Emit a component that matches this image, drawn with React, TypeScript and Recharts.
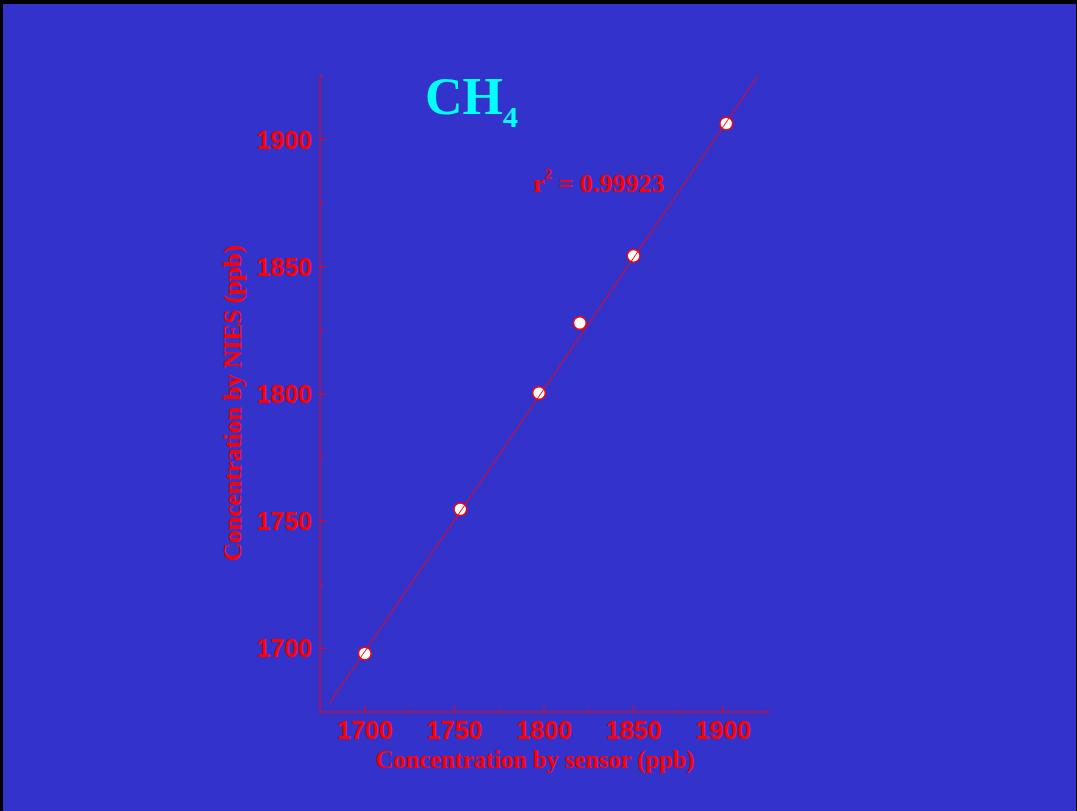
import React from "react";
import { ScatterChart, Scatter, XAxis, YAxis } from "recharts";

const sensorValues = [1700, 1753.3, 1797.2, 1820, 1850, 1901.7];
const niesValues = [1698, 1754.7, 1800.4, 1827.9, 1854.3, 1906.3];
const fitX = [1680.2, 1919.4];
const fitY = [1678.4, 1925.1];
const majorTicks = [1700, 1750, 1800, 1850, 1900];
const minorTicks = [1725, 1775, 1825, 1875, 1925];
const axisDomain = [1675, 1925];

const points = sensorValues.map((x, i) => ({ x, y: niesValues[i] }));
const fitLine = fitX.map((x, i) => ({ x, y: fitY[i] }));
const allTicks = [...majorTicks, ...minorTicks].sort((a, b) => a - b);

const RED = "#FF0000";
const BLUE = "#3333CC";
const SANS = "'Liberation Sans', Arial, sans-serif";
const SERIF = "'Liberation Serif', 'Times New Roman', serif";

const XTick = (props: any) => {
  const { x, y, payload } = props;
  const major = majorTicks.includes(payload.value);
  return (
    <g>
      <line x1={x} x2={x} y1={y} y2={y - (major ? 6 : 3)} stroke={RED} strokeWidth={1} />
      {major && (
        <text x={x} y={y + 27} textAnchor="middle" fill={RED} fontFamily={SANS} fontWeight="bold" fontSize={25}>
          {payload.value}
        </text>
      )}
    </g>
  );
};

const YTick = (props: any) => {
  const { x, y, payload } = props;
  const major = majorTicks.includes(payload.value);
  return (
    <g>
      <line x1={x} x2={x + (major ? 6 : 3)} y1={y} y2={y} stroke={RED} strokeWidth={1} />
      {major && (
        <text x={x - 8} y={y + 9} textAnchor="end" fill={RED} fontFamily={SANS} fontWeight="bold" fontSize={25}>
          {payload.value}
        </text>
      )}
    </g>
  );
};

const Marker = (props: any) => {
  const { cx, cy } = props;
  return <circle cx={cx} cy={cy} r={6.3} fill="#FFFFFF" stroke={RED} strokeWidth={1.4} />;
};

export default function App() {
  return (
    <div style={{ position: "absolute", left: 0, top: 0, width: 1077, height: 811, background: "#000" }}>
      <div style={{ position: "absolute", left: 3, top: 4, width: 1073, height: 807, background: BLUE }} />
      <div style={{ position: "absolute", left: 0, top: 0 }}>
        <ScatterChart width={1077} height={811} margin={{ top: 76, right: 309, bottom: 69, left: 260 }}>
          <XAxis
            type="number"
            dataKey="x"
            domain={axisDomain}
            ticks={allTicks}
            interval={0}
            height={30}
            tickSize={0}
            tickMargin={0}
            tickLine={false}
            axisLine={{ stroke: RED, strokeWidth: 1 }}
            tick={<XTick />}
            allowDataOverflow
          />
          <YAxis
            type="number"
            dataKey="y"
            domain={axisDomain}
            ticks={allTicks}
            interval={0}
            width={60}
            tickSize={0}
            tickMargin={0}
            tickLine={false}
            axisLine={{ stroke: RED, strokeWidth: 1 }}
            tick={<YTick />}
            allowDataOverflow
          />
          <Scatter data={points} shape={<Marker />} isAnimationActive={false} />
          <Scatter
            data={fitLine}
            line={{ stroke: RED, strokeWidth: 1 }}
            lineType="joint"
            shape={() => <g />}
            isAnimationActive={false}
          />
        </ScatterChart>
      </div>
      <svg width={1077} height={811} style={{ position: "absolute", left: 0, top: 0, pointerEvents: "none" }}>
        <text x={425} y={114} fill="#00FFFF" fontFamily={SERIF} fontWeight="bold" fontSize={52}>
          CH
          <tspan dy={13} fontSize={30}>4</tspan>
        </text>
        <text x={533} y={192} fill={RED} fontFamily={SERIF} fontWeight="bold" fontSize={26}>
          r
          <tspan dy={-13} fontSize={15}>2</tspan>
          <tspan dy={13}> = 0.99923</tspan>
        </text>
        <text x={535} y={768} textAnchor="middle" fill={RED} fontFamily={SERIF} fontWeight="bold" fontSize={24.5}>
          Concentration by sensor (ppb)
        </text>
        <text
          x={0}
          y={0}
          transform="translate(241,403) rotate(-90)"
          textAnchor="middle"
          fill={RED}
          fontFamily={SERIF}
          fontWeight="bold"
          fontSize={25}
        >
          Concentration by NIES (ppb)
        </text>
      </svg>
    </div>
  );
}
